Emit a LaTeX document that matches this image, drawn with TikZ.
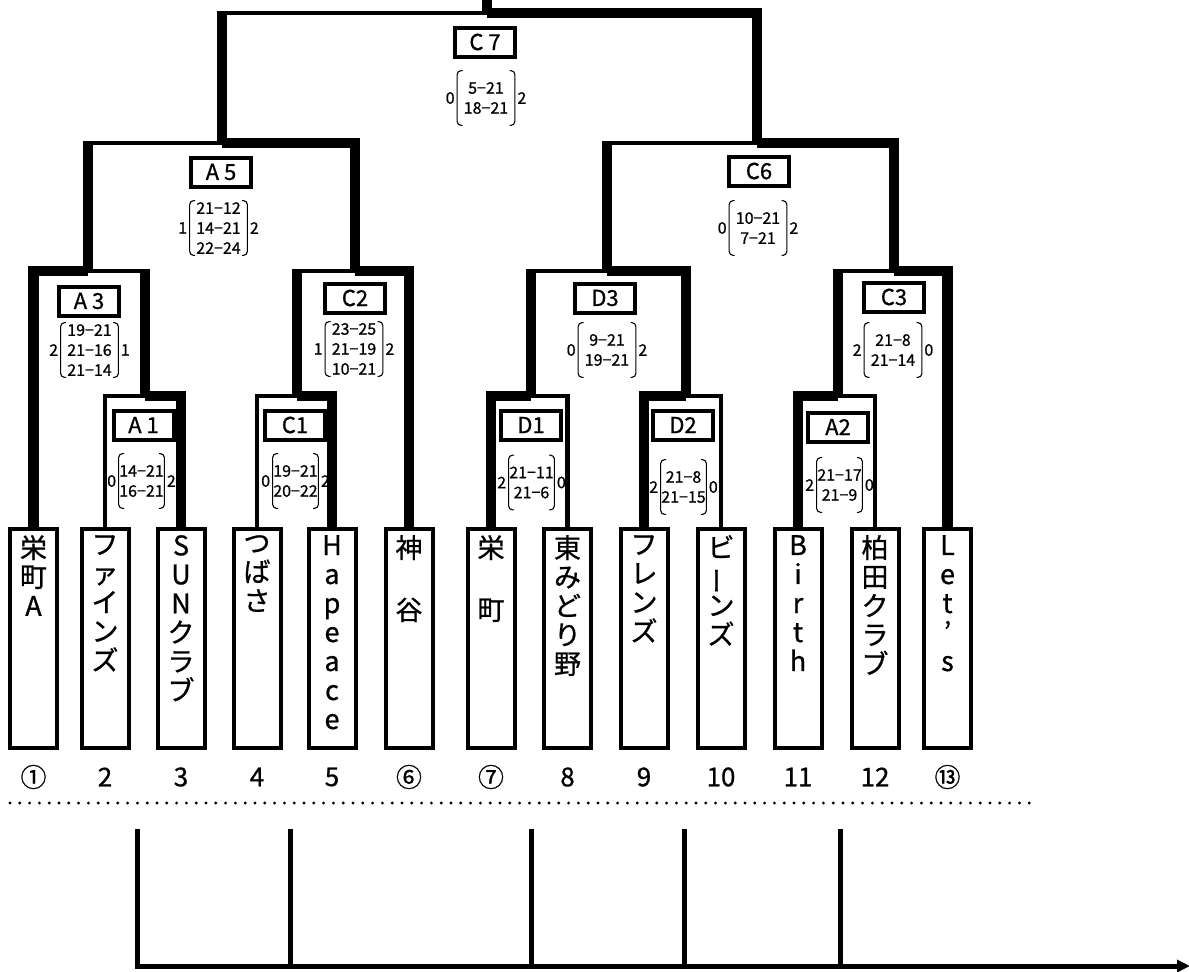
\documentclass[tikz,border=0pt]{standalone}
\usepackage{fontspec}
\setmainfont{Noto Sans CJK JP}[FakeBold=0.8]
\usetikzlibrary{arrows.meta}

\begin{document}
\begin{tikzpicture}[x=1pt, y=-1pt,
    win/.style={line width=10.5pt},
    lose/.style={line width=4.5pt},
    team/.style={draw, line width=4pt, minimum width=47pt, minimum height=219pt, inner sep=0pt},
    teamname/.style={anchor=north, align=center, inner sep=3pt, yshift=-5pt, font=\fontsize{27}{29}\selectfont},
    tag/.style={draw, line width=4pt, fill=white, minimum width=60pt, minimum height=29pt, inner sep=0pt, font=\fontsize{22}{22}\selectfont},
    score/.style={minimum width=47pt, minimum height=56pt, inner sep=0pt, align=center,
        font=\fontsize{16}{20}\selectfont,
        path picture={
            \draw[line width=1.1pt, rounded corners=4pt]
                ([xshift=6pt, yshift=-0.6pt]path picture bounding box.north west)
                -- ([xshift=0.6pt, yshift=-0.6pt]path picture bounding box.north west)
                -- ([xshift=0.6pt, yshift=0.6pt]path picture bounding box.south west)
                -- ([xshift=6pt, yshift=0.6pt]path picture bounding box.south west);
            \draw[line width=1.1pt, rounded corners=4pt]
                ([xshift=-6pt, yshift=-0.6pt]path picture bounding box.north east)
                -- ([xshift=-0.6pt, yshift=-0.6pt]path picture bounding box.north east)
                -- ([xshift=-0.6pt, yshift=0.6pt]path picture bounding box.south east)
                -- ([xshift=-6pt, yshift=0.6pt]path picture bounding box.south east);
        }},
    wide/.style={minimum width=59pt, label distance=5pt},
    side/.style={inner sep=1.5pt, font=\fontsize{16}{20}\selectfont},
    num/.style={font=\fontsize{26}{26}\selectfont},
    dots/.style={line width=3.2pt, line cap=round, dash pattern=on 0pt off 9.8pt},
    axis/.style={line width=5pt}
]
        \useasboundingbox (0,0) rectangle (1189,972);

        % Teams
        \node[team, label={[teamname]north:栄\\町\\A}] (t1) at (33.5,638.5) {};
        \node[team, label={[teamname]north:フ\\ァ\\イ\\ン\\ズ}] (t2) at (105,638.5) {};
        \node[team, label={[teamname]north:S\\U\\N\\ク\\ラ\\ブ}] (t3) at (181,638.5) {};
        \node[team, label={[teamname]north:つ\\ば\\さ}] (t4) at (257,638.5) {};
        \node[team, label={[teamname]north:H\\a\\p\\e\\a\\c\\e}] (t5) at (332,638.5) {};
        \node[team, label={[teamname]north:神\\[33pt]谷}] (t6) at (409,638.5) {};
        \node[team, label={[teamname]north:栄\\[33pt]町}] (t7) at (491,638.5) {};
        \node[team, label={[teamname]north:東\\み\\ど\\り\\野}] (t8) at (567.5,638.5) {};
        \node[team, label={[teamname]north:フ\\レ\\ン\\ズ}] (t9) at (644,638.5) {};
        \node[team, label={[teamname]north:ビ\\\rotatebox[origin=c]{90}{ー}\\ン\\ズ}] (t10) at (721,638.5) {};
        \node[team, label={[teamname]north:B\\i\\r\\t\\h}] (t11) at (798,638.5) {};
        \node[team, label={[teamname]north:柏\\田\\ク\\ラ\\ブ}] (t12) at (875,638.5) {};
        \node[team, label={[teamname]north:L\\e\\t\\’\\s}] (t13) at (947.5,638.5) {};

        % Junctions
        \coordinate (jA1) at (145,396);
        \coordinate (jC1) at (297,396);
        \coordinate (jD1) at (531,396);
        \coordinate (jD2) at (686,396);
        \coordinate (jA2) at (838,396);
        \coordinate (jA3) at (88,271);
        \coordinate (jC2) at (355,271);
        \coordinate (jD3) at (607,271);
        \coordinate (jC3) at (894,271);
        \coordinate (jA5) at (222,143);
        \coordinate (jC6) at (757,143);
        \coordinate (jC7) at (487,13);
        \coordinate (top) at (487,-12);

        % Round 1
        \draw[lose] (t2.north) |- (jA1);
        \draw[win] (t3.north) |- (jA1);
        \draw[lose] (t4.north) |- (jC1);
        \draw[win] (t5.north) |- (jC1);
        \draw[win] (t7.north) |- (jD1);
        \draw[lose] (t8.north) |- (jD1);
        \draw[win] (t9.north) |- (jD2);
        \draw[lose] (t10.north) |- (jD2);
        \draw[win] (t11.north) |- (jA2);
        \draw[lose] (t12.north) |- (jA2);

        % Round 2
        \draw[win] (t1.north) |- (jA3);
        \draw[win, shorten >=-2.25pt] (jA1) -- (jA1 |- jA3);
        \draw[lose] (jA1 |- jA3) -- (jA3);
        \draw[win, shorten >=-2.25pt] (jC1) -- (jC1 |- jC2);
        \draw[lose] (jC1 |- jC2) -- (jC2);
        \draw[win] (t6.north) |- (jC2);
        \draw[win, shorten >=-2.25pt] (jD1) -- (jD1 |- jD3);
        \draw[lose] (jD1 |- jD3) -- (jD3);
        \draw[win] (jD2) |- (jD3);
        \draw[win, shorten >=-2.25pt] (jA2) -- (jA2 |- jC3);
        \draw[lose] (jA2 |- jC3) -- (jC3);
        \draw[win] (t13.north) |- (jC3);

        % Round 3 and final
        \draw[win, shorten >=-2.25pt] (jA3) -- (jA3 |- jA5);
        \draw[lose] (jA3 |- jA5) -- (jA5);
        \draw[win] (jC2) |- (jA5);
        \draw[win, shorten >=-2.25pt] (jD3) -- (jD3 |- jC6);
        \draw[lose] (jD3 |- jC6) -- (jC6);
        \draw[win] (jC3) |- (jC6);
        \draw[win, shorten >=-2.25pt] (jA5) -- (jA5 |- jC7);
        \draw[lose] (jA5 |- jC7) -- (jC7);
        \draw[win] (jC6) |- (jC7);
        \draw[win] (jC7) -- (top);

        % Match tags
        \node[tag] (gA1) at (143.5,425) {A 1};
        \node[tag] (gC1) at (295,425) {C1};
        \node[tag] (gD1) at (531,425) {D1};
        \node[tag] (gD2) at (683,425) {D2};
        \node[tag] (gA2) at (838,427) {A2};
        \node[tag] (gA3) at (89,301) {A 3};
        \node[tag] (gC2) at (355,298) {C2};
        \node[tag] (gD3) at (605,298) {D3};
        \node[tag] (gC3) at (894,297) {C3};
        \node[tag] (gA5) at (221,172) {A 5};
        \node[tag] (gC6) at (759,171) {C6};
        \node[tag] (gC7) at (485,42) {C 7};

        % Scores
        \node[score, label={[side]left:0}, label={[side]right:2}] (sA1) at (141.5,481) {14−21\\16−21};
        \node[score, label={[side]left:0}, label={[side]right:2}] (sC1) at (295.5,481) {19−21\\20−22};
        \node[score, label={[side]left:2}, label={[side]right:0}] (sD1) at (531.5,482.5) {21−11\\21−6};
        \node[score, label={[side]left:2}, label={[side]right:0}] (sD2) at (683.5,487) {21−8\\21−15};
        \node[score, label={[side]left:2}, label={[side]right:0}] (sA2) at (839.5,485) {21−17\\21−9};
        \node[score, wide, label={[side]left:2}, label={[side]right:1}] (sA3) at (89.5,350) {19−21\\21−16\\21−14};
        \node[score, wide, label={[side]left:1}, label={[side]right:2}] (sC2) at (354,349) {23−25\\21−19\\10−21};
        \node[score, wide, label={[side]left:0}, label={[side]right:2}] (sD3) at (607,350) {9−21\\19−21};
        \node[score, wide, label={[side]left:2}, label={[side]right:0}] (sC3) at (893,350) {21−8\\21−14};
        \node[score, wide, label={[side]left:1}, label={[side]right:2}] (sA5) at (218.5,228) {21−12\\14−21\\22−24};
        \node[score, wide, label={[side]left:0}, label={[side]right:2}] (sC6) at (758,228) {10−21\\7−21};
        \node[score, wide, label={[side]left:0}, label={[side]right:2}] (sC7) at (486,98) {5−21\\18−21};

        % Draw numbers
        \node[num] (n1) at (33.5,777) {①};
        \node[num] (n2) at (105,777) {2};
        \node[num] (n3) at (181,777) {3};
        \node[num] (n4) at (257,777) {4};
        \node[num] (n5) at (332,777) {5};
        \node[num] (n6) at (409,777) {⑥};
        \node[num] (n7) at (491,777) {⑦};
        \node[num] (n8) at (567.5,777) {8};
        \node[num] (n9) at (644,777) {9};
        \node[num] (n10) at (721,777) {10};
        \node[num] (n11) at (798,777) {11};
        \node[num] (n12) at (875,777) {12};
        \node[num] (n13) at (947.5,777) {⑬};

        % Dotted line and lower frame
        \coordinate (dotL) at (10,803);
        \coordinate (dotR) at (1037,803);
        \draw[dots] (dotL) -- (dotR);

        \coordinate (k1) at (137,829);
        \coordinate (k2) at (290,829);
        \coordinate (k3) at (531,829);
        \coordinate (k4) at (684,829);
        \coordinate (k5) at (840,829);
        \coordinate (axR) at (1190,966);
        \draw[axis, -{Triangle[length=13pt, width=12pt]}] (k1) |- (axR);
        \draw[axis] (k2) -- (k2 |- axR);
        \draw[axis] (k3) -- (k3 |- axR);
        \draw[axis] (k4) -- (k4 |- axR);
        \draw[axis] (k5) -- (k5 |- axR);

\end{tikzpicture}
\end{document}
